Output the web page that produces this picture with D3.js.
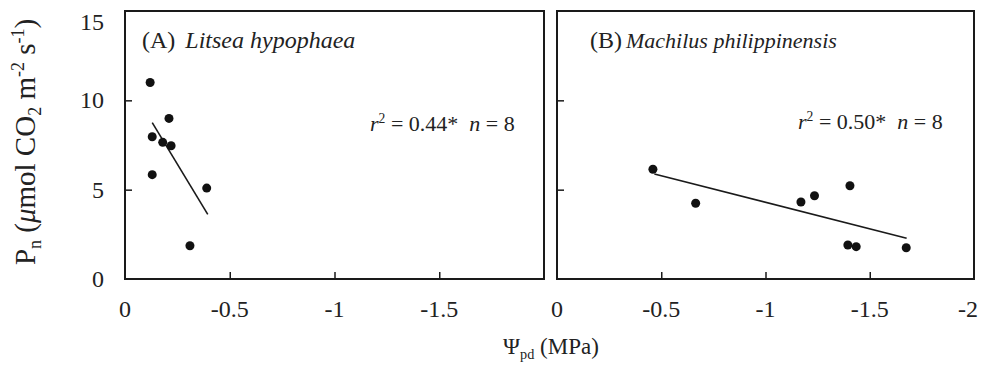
<!DOCTYPE html>
<html>
<head>
<meta charset="utf-8">
<script src="https://d3js.org/d3.v7.min.js"></script>
<style>
  body { margin: 0; background: #fff; }
  svg { display: block; font-family: "Liberation Serif", "Times New Roman", serif; }
  .frame { fill: none; stroke: #1a1a1a; stroke-width: 2px; }
  .tick line { stroke: #1a1a1a; stroke-width: 1.5px; }
  .fit { fill: none; stroke: #1a1a1a; stroke-width: 1.6px; }
  .dot { fill: #111; }
  text { fill: #222; }
</style>
</head>
<body>
<svg width="981" height="369"></svg>
<script>
// ticks
const xTicks = [0, -0.5, -1, -1.5, -2];
const yTicks = [0, 5, 10, 15];

// (A) Litsea hypophaea
const litseaPsi = [-0.12, -0.13, -0.18, -0.22, -0.21, -0.13, -0.39, -0.31];
const litseaPn  = [11.0, 7.96, 7.65, 7.46, 8.99, 5.84, 5.09, 1.86];
const litseaFitPsi = [-0.13, -0.395];
const litseaFitPn  = [8.75, 3.62];

// (B) Machilus philippinensis
const machilusPsi = [-0.46, -0.665, -1.17, -1.235, -1.405, -1.395, -1.435, -1.675];
const machilusPn  = [6.14, 4.24, 4.31, 4.66, 5.22, 1.90, 1.81, 1.75];
const machilusFitPsi = [-0.467, -1.677];
const machilusFitPn  = [5.88, 2.28];

const panels = [
  { left: 125, right: 544, tag: "(A)", name: "Litsea hypophaea", nameSize: 24,
    titleX: 142, nameGap: 10,
    psi: litseaPsi, pn: litseaPn, fitPsi: litseaFitPsi, fitPn: litseaFitPn,
    r2: "0.44*", statX: 370, statY: 131, yLabels: true, lastX: false },
  { left: 557, right: 974, tag: "(B)", name: "Machilus philippinensis", nameSize: 22,
    titleX: 590, nameGap: 4,
    psi: machilusPsi, pn: machilusPn, fitPsi: machilusFitPsi, fitPn: machilusFitPn,
    r2: "0.50*", statX: 798, statY: 129, yLabels: false, lastX: true }
];

const svg = d3.select("svg");
const plotTop = 11, plotBottom = 279;
const y = d3.scaleLinear().domain([0, 15]).range([plotBottom, plotTop]);

// writes text pieces: [string, kind] kind = "", "i", "sub", "sup"
function rich(el, parts, size) {
  let shift = 0;
  parts.forEach(([s, k]) => {
    const t = el.append("tspan").text(s);
    let want = 0;
    if (k === "sub") { want = size * 0.2; t.attr("font-size", size * 0.62); }
    if (k === "sup") { want = -size * 0.38; t.attr("font-size", size * 0.62); }
    if (k === "i") t.attr("font-style", "italic");
    if (want !== shift) { t.attr("dy", want - shift); shift = want; }
  });
}

panels.forEach(p => {
  const x = d3.scaleLinear().domain([0, -2]).range([p.left, p.right]);
  const g = svg.append("g");

  // x axis, ticks pointing inward
  const xa = g.append("g").attr("transform", `translate(0,${plotBottom})`)
    .call(d3.axisBottom(x).tickValues(xTicks.slice(1, 4)).tickSizeInner(-7).tickSizeOuter(0).tickFormat(""));
  xa.select(".domain").remove();

  const xl = p.lastX ? xTicks : xTicks.slice(0, 4);
  g.selectAll(".xl").data(xl).join("text")
    .attr("x", d => d === -2 ? x(d) + 4 : x(d)).attr("y", 317)
    .attr("text-anchor", d => d === -2 ? "end" : "middle").attr("font-size", 24)
    .text(d => String(d));

  // y axis
  const ya = g.append("g").attr("transform", `translate(${p.left},0)`)
    .call(d3.axisLeft(y).tickValues([5, 10]).tickSizeInner(-7).tickSizeOuter(0).tickFormat(""));
  ya.select(".domain").remove();

  if (p.yLabels) {
    g.selectAll(".yl").data(yTicks).join("text")
      .attr("x", 104).attr("y", d => Math.max(y(d), 22))
      .attr("dy", "0.34em")
      .attr("text-anchor", "end").attr("font-size", 24)
      .text(d => d);
  }

  g.append("rect").attr("class", "frame")
    .attr("x", p.left).attr("y", plotTop)
    .attr("width", p.right - p.left).attr("height", plotBottom - plotTop);

  // fitted line
  const line = d3.line().x(d => x(d[0])).y(d => y(d[1]));
  g.append("path").attr("class", "fit")
    .attr("d", line(d3.zip(p.fitPsi, p.fitPn)));

  // points
  g.selectAll(".dot").data(d3.zip(p.psi, p.pn)).join("circle")
    .attr("class", "dot")
    .attr("cx", d => x(d[0])).attr("cy", d => y(d[1])).attr("r", 4.5);

  // panel title
  const title = g.append("text").attr("x", p.titleX).attr("y", 48).attr("font-size", 24);
  title.append("tspan").text(p.tag);
  title.append("tspan").attr("dx", p.nameGap).attr("font-style", "italic")
    .attr("font-size", p.nameSize).text(p.name);

  // statistics
  const st = g.append("text").attr("x", p.statX).attr("y", p.statY).attr("font-size", 22);
  rich(st, [["r", "i"], ["2", "sup"], [" = " + p.r2 + "\u00a0\u00a0", ""], ["n", "i"], [" = 8", ""]], 22);
});

// y axis title
const yt = svg.append("text")
  .attr("transform", "translate(35,142) rotate(-90)")
  .attr("text-anchor", "middle").attr("font-size", 29);
rich(yt, [["P", ""], ["n", "sub"], [" (", ""], ["\u03bc", "i"], ["mol CO", ""], ["2", "sub"],
          [" m", ""], ["-2", "sup"], [" s", ""], ["-1", "sup"], [")", ""]], 29);

// x axis title
const xt = svg.append("text")
  .attr("x", 551).attr("y", 354)
  .attr("text-anchor", "middle").attr("font-size", 23);
rich(xt, [["\u03a8", ""], ["pd", "sub"], [" (MPa)", ""]], 23);
</script>
</body>
</html>
